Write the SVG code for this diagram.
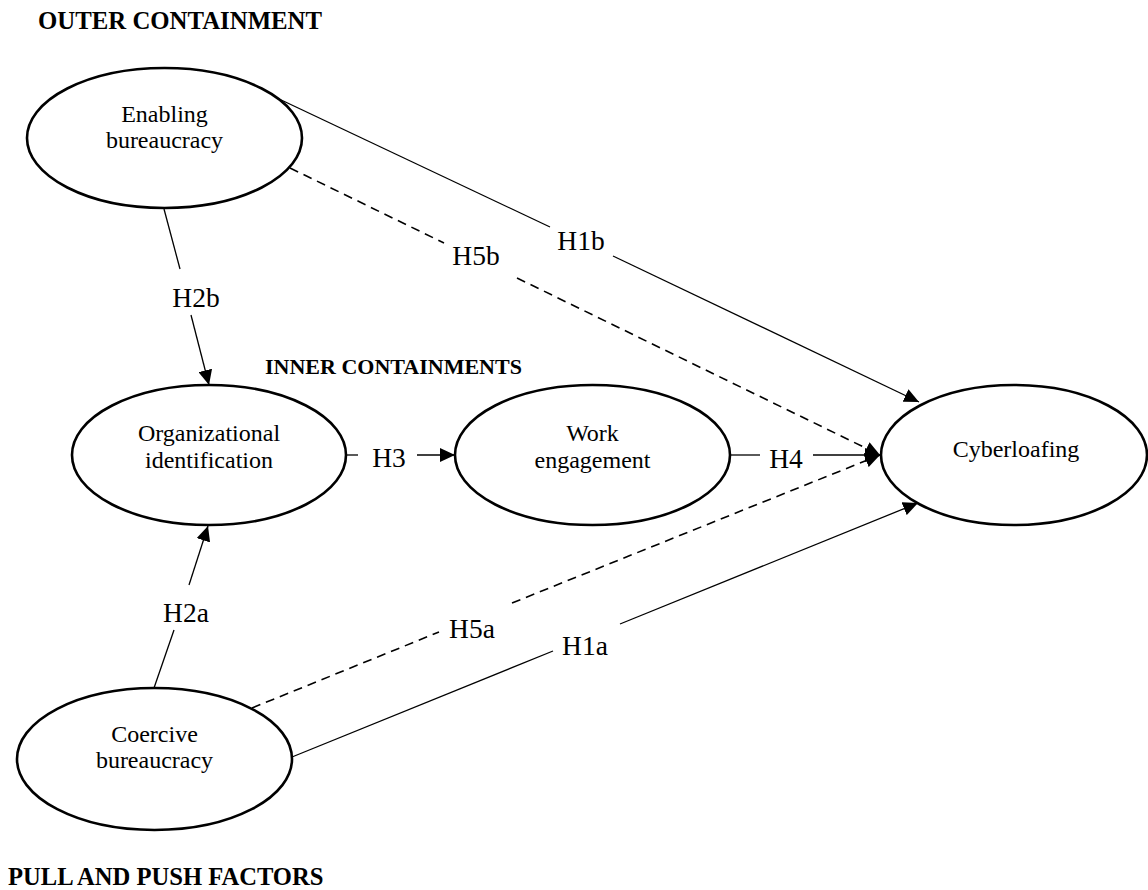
<svg xmlns="http://www.w3.org/2000/svg" width="1148" height="890" viewBox="0 0 1148 890">
<style>
.node ellipse{fill:#fff;stroke:#000;stroke-width:2.6}
.nt{font-family:"Liberation Serif","Times New Roman",serif;font-size:24px;fill:#000;text-anchor:middle}
.cap{font-family:"Liberation Serif","Times New Roman",serif;font-weight:bold;fill:#000}
.lbl{font-family:"Liberation Serif","Times New Roman",serif;font-size:27.5px;fill:#000;text-anchor:middle}
.e{stroke:#000;stroke-width:1.3;fill:none}
.d{stroke-dasharray:9 6;stroke-width:1.6}
</style>
<defs>
<marker id="ah" markerUnits="userSpaceOnUse" markerWidth="16" markerHeight="14" refX="15" refY="7" orient="auto" viewBox="0 0 16 14">
<path d="M0,0 L15,7 L0,14 z" fill="#000"/>
</marker>
</defs>
<rect width="1148" height="890" fill="#fff"/>
<text class="cap" x="38" y="29" font-size="24.8">OUTER CONTAINMENT</text>
<text class="cap" x="265" y="374" font-size="22">INNER CONTAINMENTS</text>
<text class="cap" x="8" y="885" font-size="24.6">PULL AND PUSH FACTORS</text>
<g id="connectors">
<g id="e-h2b"><line class="e" x1="164" y1="209" x2="180" y2="269"/><line class="e" x1="191" y1="315" x2="209" y2="385" marker-end="url(#ah)"/><text class="lbl" x="196" y="307">H2b</text></g>
<g id="e-h2a"><line class="e" x1="154" y1="688" x2="174" y2="630"/><line class="e" x1="189" y1="585" x2="208" y2="526" marker-end="url(#ah)"/><text class="lbl" x="186" y="622">H2a</text></g>
<g id="e-h3"><line class="e" x1="346" y1="455" x2="358" y2="455"/><line class="e" x1="417" y1="455" x2="455" y2="455" marker-end="url(#ah)"/><text class="lbl" x="389" y="467">H3</text></g>
<g id="e-h4"><line class="e" x1="730" y1="455" x2="760" y2="455"/><line class="e" x1="813" y1="455" x2="880" y2="455" marker-end="url(#ah)"/><text class="lbl" x="786" y="468">H4</text></g>
<g id="e-h1b"><line class="e" x1="277" y1="98" x2="550" y2="227"/><line class="e" x1="613" y1="256" x2="919" y2="402" marker-end="url(#ah)"/><text class="lbl" x="581" y="250">H1b</text></g>
<g id="e-h5b"><line class="e d" x1="290" y1="168" x2="444" y2="243"/><line class="e d" x1="517" y1="278" x2="880" y2="455" marker-end="url(#ah)"/><text class="lbl" x="476" y="265">H5b</text></g>
<g id="e-h5a"><line class="e d" x1="252" y1="708" x2="439" y2="632"/><line class="e d" x1="512" y1="603" x2="880" y2="455" marker-end="url(#ah)"/><text class="lbl" x="472" y="638">H5a</text></g>
<g id="e-h1a"><line class="e" x1="292" y1="757" x2="553" y2="651"/><line class="e" x1="620" y1="624" x2="918" y2="503" marker-end="url(#ah)"/><text class="lbl" x="585" y="655">H1a</text></g>
</g>
<g id="enabling" class="node"><ellipse cx="164.5" cy="138" rx="137.5" ry="70"/><text class="nt" x="164.5" y="122">Enabling</text><text class="nt" x="164.5" y="148">bureaucracy</text></g>
<g id="orgid" class="node"><ellipse cx="209" cy="455" rx="137" ry="70"/><text class="nt" x="209" y="441">Organizational</text><text class="nt" x="209" y="468">identification</text></g>
<g id="engagement" class="node"><ellipse cx="592.5" cy="455" rx="137.5" ry="70"/><text class="nt" x="592.5" y="441">Work</text><text class="nt" x="592.5" y="468">engagement</text></g>
<g id="cyberloafing" class="node"><ellipse cx="1014" cy="455" rx="133" ry="70"/><text class="nt" x="1016" y="457">Cyberloafing</text></g>
<g id="coercive" class="node"><ellipse cx="154.5" cy="759" rx="137.5" ry="71"/><text class="nt" x="154.5" y="742">Coercive</text><text class="nt" x="154.5" y="768">bureaucracy</text></g>
</svg>
